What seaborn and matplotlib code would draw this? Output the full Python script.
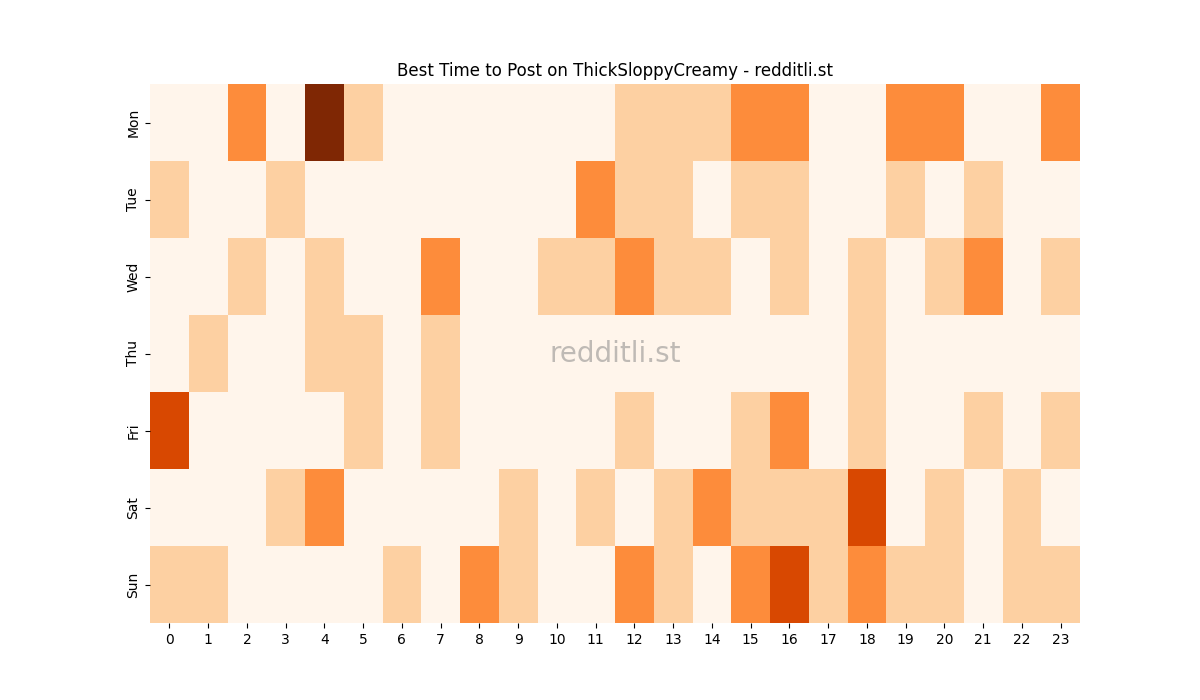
import numpy as np
import pandas as pd
import seaborn as sns
import matplotlib
matplotlib.use("Agg")
import matplotlib.pyplot as plt

days = ["Mon", "Tue", "Wed", "Thu", "Fri", "Sat", "Sun"]
hours = list(range(24))

# activity level per hour (0-4)
mon = [0, 0, 2, 0, 4, 1, 0, 0, 0, 0, 0, 0, 1, 1, 1, 2, 2, 0, 0, 2, 2, 0, 0, 2]
tue = [1, 0, 0, 1, 0, 0, 0, 0, 0, 0, 0, 2, 1, 1, 0, 1, 1, 0, 0, 1, 0, 1, 0, 0]
wed = [0, 0, 1, 0, 1, 0, 0, 2, 0, 0, 1, 1, 2, 1, 1, 0, 1, 0, 1, 0, 1, 2, 0, 1]
thu = [0, 1, 0, 0, 1, 1, 0, 1, 0, 0, 0, 0, 0, 0, 0, 0, 0, 0, 1, 0, 0, 0, 0, 0]
fri = [3, 0, 0, 0, 0, 1, 0, 1, 0, 0, 0, 0, 1, 0, 0, 1, 2, 0, 1, 0, 0, 1, 0, 1]
sat = [0, 0, 0, 1, 2, 0, 0, 0, 0, 1, 0, 1, 0, 1, 2, 1, 1, 1, 3, 0, 1, 0, 1, 0]
sun = [1, 1, 0, 0, 0, 0, 1, 0, 2, 1, 0, 0, 2, 1, 0, 2, 3, 1, 2, 1, 1, 0, 1, 1]

df = pd.DataFrame([mon, tue, wed, thu, fri, sat, sun], index=days, columns=hours)

fig, ax = plt.subplots(figsize=(12, 7), dpi=100)
sns.heatmap(df, cmap="Oranges", vmin=0, vmax=4, cbar=False, ax=ax)
ax.set_title("Best Time to Post on ThickSloppyCreamy - redditli.st")
ax.set_xlabel("")
ax.set_ylabel("")

# watermark
ax.text(0.5, 0.5, "redditli.st", transform=ax.transAxes, fontsize=20,
        color="gray", alpha=0.5, ha="center", va="center")

plt.savefig("out.png")
